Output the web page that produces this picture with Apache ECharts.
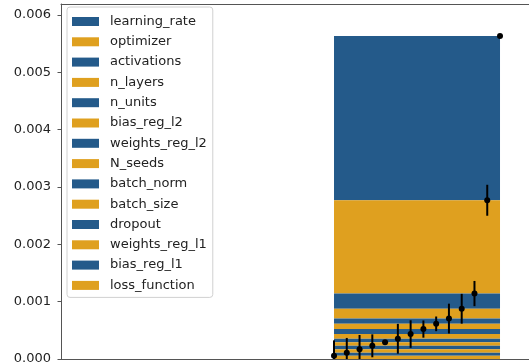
<!DOCTYPE html>
<html lang="en">
<head>
    <meta charset="UTF-8">
    <title>feature importance</title>
    <script src="https://cdn.jsdelivr.net/npm/echarts@6/dist/echarts.min.js"></script>
    <style>
        html, body { margin: 0; padding: 0; background: #fff; }
        #container { width: 529px; height: 363px; }
    </style>
</head>
<body>
<div id="container"></div>
<script>
    // features in legend order (top of the stack first)
    var features = ['learning_rate', 'optimizer', 'activations', 'n_layers', 'n_units',
        'bias_reg_l2', 'weights_reg_l2', 'N_seeds', 'batch_norm', 'batch_size',
        'dropout', 'weights_reg_l1', 'bias_reg_l1', 'loss_function'];
    var importance = [0.002866, 0.001627, 0.000265, 0.000171, 0.000092,
        0.000091, 0.000087, 0.000082, 0.000062, 0.000061,
        0.000061, 0.000058, 0.000056, 0.000055];
    var errors = [0, 0.00027, 0.00022, 0.00026, 0.00026,
        0.000128, 0.00015, 0.00024, 0.00026, 0,
        0.0002, 0.00025, 0.000256, 0.00027];
    var colors = ['#245a8a', '#dfa01f'];
    var yTicks = [0, 0.001, 0.002, 0.003, 0.004, 0.005, 0.006];

    var myChart = echarts.init(document.getElementById('container'));

    // stack from the bottom: last feature first
    var n = features.length;
    var series = [];
    var stackBase = 0;
    var points = [];
    for (var i = n - 1; i >= 0; i--) {
        var stackTop = stackBase + importance[i];
        series.unshift({
            type: 'custom',
            name: features[i],
            itemStyle: { color: colors[i % 2] },
            data: [[0, n - 1, stackBase, stackTop]],
            renderItem: function (params, api) {
                var p0 = api.coord([api.value(0), api.value(3)]);
                var p1 = api.coord([api.value(1), api.value(2)]);
                return {
                    type: 'rect',
                    shape: { x: p0[0], y: p0[1], width: p1[0] - p0[0], height: p1[1] - p0[1] },
                    style: { fill: api.visual('color') }
                };
            },
            z: 2
        });
        points.push([n - 1 - i, stackTop, errors[i]]);
        stackBase = stackTop;
    }

    // cumulative points with error bars
    series.push({
        type: 'custom',
        name: 'cumulative',
        clip: true,
        data: points,
        renderItem: function (params, api) {
            var x = api.value(0), y = api.value(1), e = api.value(2);
            var c = api.coord([x, y]);
            var hi = api.coord([x, y + e]);
            var lo = api.coord([x, y - e]);
            var children = [];
            if (e > 0) {
                children.push({
                    type: 'line',
                    shape: { x1: hi[0], y1: hi[1], x2: lo[0], y2: lo[1] },
                    style: { stroke: '#000', lineWidth: 2 }
                });
            }
            children.push({
                type: 'circle',
                shape: { cx: c[0], cy: c[1], r: 3 },
                style: { fill: '#000' }
            });
            return { type: 'group', children: children };
        },
        z: 5
    });

    var option = {
        animation: false,
        textStyle: { fontFamily: 'DejaVu Sans' },
        grid: { left: 61, top: 4, right: 0, bottom: 4, containLabel: false, outerBoundsMode: 'none' },
        legend: {
            data: features,
            orient: 'vertical',
            left: 67,
            top: 7,
            icon: 'rect',
            itemWidth: 27,
            itemHeight: 9,
            itemGap: 6.3,
            padding: [7.5, 6, 5, 5],
            backgroundColor: 'rgba(255,255,255,0.8)',
            borderColor: '#d0d0d0',
            borderWidth: 1,
            borderRadius: 3,
            selectedMode: false,
            textStyle: {
                fontFamily: 'DejaVu Sans',
                fontSize: 13,
                lineHeight: 14,
                color: '#222',
                padding: [0, 0, 0, 6]
            }
        },
        xAxis: [{
            type: 'value',
            min: -21.38,
            max: 15.27,
            axisLine: { show: true, onZero: false, lineStyle: { color: '#555', width: 1 } },
            axisTick: { show: false },
            axisLabel: { show: false },
            splitLine: { show: false }
        }, {
            type: 'value',
            position: 'top',
            min: -21.38,
            max: 15.27,
            axisLine: { show: true, onZero: false, lineStyle: { color: '#555', width: 1 } },
            axisTick: { show: false },
            axisLabel: { show: false },
            splitLine: { show: false }
        }],
        yAxis: {
            type: 'value',
            min: 0,
            max: 0.00619,
            interval: 0.001,
            axisLine: { show: true, onZero: false, lineStyle: { color: '#555', width: 1 } },
            axisTick: { show: true, length: 3.5, customValues: yTicks, lineStyle: { color: '#555' } },
            axisLabel: {
                customValues: yTicks,
                margin: 10,
                fontSize: 13,
                color: '#222',
                fontFamily: 'DejaVu Sans',
                formatter: function (v) {
                    return Math.abs(v * 1000 - Math.round(v * 1000)) < 1e-6 ? v.toFixed(3) : '';
                }
            },
            splitLine: { show: false }
        },
        series: series
    };

    myChart.setOption(option);
</script>
</body>
</html>
